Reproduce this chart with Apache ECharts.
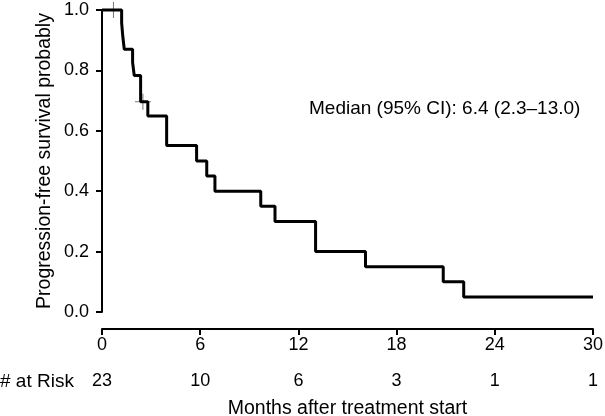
<!DOCTYPE html>
<html><head><meta charset="utf-8">
<script src="https://cdn.jsdelivr.net/npm/echarts@6/dist/echarts.min.js"></script>
<style>html,body{margin:0;padding:0;background:#fff}#c{width:605px;height:416px}</style>
</head><body><div id="c"></div>
<script>
var months = [0, 1.2, 1.27, 1.36, 1.87, 1.97, 2.36, 2.8, 3.95, 5.78, 6.4, 6.9, 9.7, 10.57, 13.05, 16.1, 20.85, 22.1, 30];
var survival = [1.0, 0.957, 0.913, 0.870, 0.826, 0.783, 0.696, 0.649, 0.551, 0.50, 0.45, 0.40, 0.35, 0.30, 0.20, 0.15, 0.10, 0.05, 0.05];
var censorMonths = [0.7, 2.5];
var censorSurv = [1.0, 0.696];
var riskTimes = [0, 6, 12, 18, 24, 30];
var atRisk = [23, 10, 6, 3, 1, 1];
var medianText = 'Median (95% CI): 6.4 (2.3\u201313.0)';

var FONT = 'Liberation Sans, Arial, Helvetica, sans-serif';
var FS = 18;
var FT = 19;
var chart = echarts.init(document.getElementById('c'));
var curve = months.map(function(m, i){ return [m, survival[i]]; });
var cens = censorMonths.map(function(m, i){ return [m, censorSurv[i]]; });
var plus = 'path://M7.5,0H8.5V16H7.5Z M0,7.5H16V8.5H0Z';
chart.setOption({
  animation: false,
  grid: {left: 102, right: 12, top: 10, bottom: 104, containLabel: false, outerBoundsMode: 'none'},
  xAxis: [{
    type: 'value', min: 0, max: 30, interval: 6, offset: 17, position: 'bottom',
    axisLine: {show: true, onZero: false, lineStyle: {color: '#000', width: 2}},
    axisTick: {show: true, length: 6, lineStyle: {color: '#000', width: 2}},
    axisLabel: {color: '#000', fontSize: FS, fontFamily: FONT, margin: 7},
    splitLine: {show: false},
    name: 'Months after treatment start', nameLocation: 'middle', nameGap: 70,
    nameTextStyle: {color: '#000', fontSize: FT + 0.5, fontFamily: FONT}
  }, {
    type: 'value', min: 0, max: 30, interval: 6, position: 'bottom', offset: 55,
    axisLine: {show: false, onZero: false}, axisTick: {show: false}, splitLine: {show: false},
    axisLabel: {color: '#000', fontSize: FS, fontFamily: FONT, margin: 5,
      formatter: function(v){ var i = riskTimes.indexOf(v); return i >= 0 ? String(atRisk[i]) : ''; }}
  }],
  yAxis: {
    type: 'value', min: 0, max: 1, interval: 0.2,
    axisLine: {show: true, onZero: false, lineStyle: {color: '#000', width: 2}},
    axisTick: {show: true, length: 6, lineStyle: {color: '#000', width: 2}},
    axisLabel: {color: '#000', fontSize: FS, fontFamily: FONT, margin: 13,
      formatter: function(v){ return v.toFixed(1); }},
    splitLine: {show: false},
    name: 'Progression-free survival probably', nameLocation: 'middle', nameGap: 47,
    nameMoveOverlap: false,
    nameTextStyle: {color: '#000', fontSize: FT + 0.5, fontFamily: FONT}
  },
  graphic: [
    {type: 'text', left: 0, top: 372, style: {text: '# at Risk', fill: '#000', font: FT + 'px ' + FONT}},
    {type: 'text', left: 309, top: 99, style: {text: medianText, fill: '#000', font: FT + 'px ' + FONT}}
  ],
  series: [{
    type: 'line', step: 'end', data: curve, showSymbol: false, clip: false,
    lineStyle: {color: '#000', width: 3}
  }, {
    type: 'scatter', data: cens, symbol: plus, symbolSize: 16,
    itemStyle: {color: '#555'}, z: 1
  }]
});
</script></body></html>
